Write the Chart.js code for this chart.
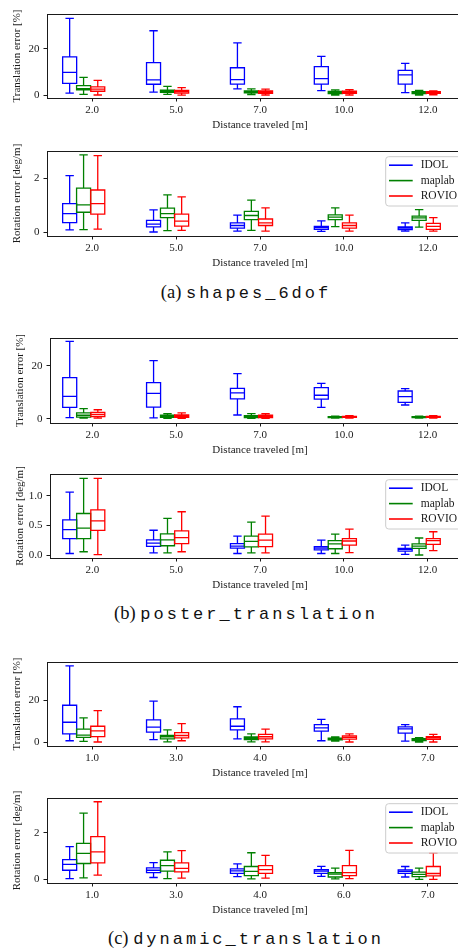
<!DOCTYPE html>
<html>
<head>
<meta charset="utf-8">
<script src="https://cdn.jsdelivr.net/npm/chart.js@4.4.0/dist/chart.umd.min.js"></script>
<style>
html, body { margin: 0; padding: 0; width: 458px; height: 951px; overflow: hidden; background: #fff; }
canvas { position: absolute; left: 0; }
.cap { position: absolute; left: 0; width: 492px; text-align: center; line-height: 22px; height: 22px;
       font-family: "Liberation Serif", serif; font-size: 18.5px; color: #111; white-space: nowrap; }
.cap .tt { font-family: "Liberation Mono", monospace; font-size: 17px; letter-spacing: 3px; }
</style>
</head>
<body>
<div class="cap" style="top:281px">(a) <span class="tt">shapes_6dof</span></div>
<div class="cap" style="top:602px">(b) <span class="tt">poster_translation</span></div>
<div class="cap" style="top:927px">(c) <span class="tt">dynamic_translation</span></div>
<script>
// ---- data ----
var categoriesAB = ['2.0', '5.0', '7.0', '10.0', '12.0'];
var categoriesC = ['1.0', '3.0', '4.0', '6.0', '7.0'];
var seriesNames = ['IDOL', 'maplab', 'ROVIO'];

// each box: [whisker low, q1, median, q3, whisker high]
var transA_IDOL   = [[0.9, 5.1, 9.8, 16.5, 33.0], [1.3, 4.7, 6.6, 14.0, 27.7], [2.7, 4.8, 6.7, 11.8, 22.5], [2.0, 4.8, 7.1, 12.3, 16.7], [1.1, 4.8, 8.7, 10.7, 13.7]];
var transA_maplab = [[0.4, 2.3, 2.8, 4.1, 7.7], [0.4, 1.2, 1.7, 2.2, 3.8], [0.3, 1.0, 1.4, 1.8, 2.7], [0.1, 0.7, 1.1, 1.6, 2.3], [0.1, 0.7, 1.1, 1.5, 2.1]];
var transA_ROVIO  = [[0.1, 1.7, 2.6, 3.6, 6.4], [0.0, 0.9, 1.5, 2.1, 3.3], [0.1, 0.8, 1.3, 1.9, 2.6], [0.1, 0.8, 1.2, 1.7, 2.4], [0.2, 0.8, 1.1, 1.5, 1.9]];

var rotA_IDOL   = [[0.09, 0.36, 0.69, 1.06, 2.09], [0.01, 0.20, 0.30, 0.44, 0.83], [0.04, 0.15, 0.25, 0.35, 0.63], [0.03, 0.11, 0.17, 0.22, 0.42], [0.04, 0.10, 0.15, 0.20, 0.35]];
var rotA_maplab = [[0.10, 0.74, 1.01, 1.63, 2.86], [0.06, 0.54, 0.69, 0.89, 1.38], [0.07, 0.47, 0.62, 0.77, 1.19], [0.21, 0.47, 0.56, 0.64, 0.90], [0.19, 0.44, 0.53, 0.60, 0.84]];
var rotA_ROVIO  = [[0.12, 0.67, 1.06, 1.56, 2.83], [0.07, 0.23, 0.41, 0.67, 1.31], [0.04, 0.25, 0.35, 0.49, 0.90], [0.04, 0.15, 0.25, 0.35, 0.63], [0.04, 0.11, 0.22, 0.33, 0.54]];

var transB_IDOL   = [[0.4, 4.3, 8.5, 15.6, 29.3], [0.3, 4.4, 9.6, 13.7, 22.0], [1.4, 7.5, 9.8, 11.5, 17.1], [4.3, 7.4, 8.9, 11.8, 13.4], [5.2, 6.2, 8.4, 10.5, 11.4]];
var transB_maplab = [[0.2, 0.6, 1.3, 2.2, 3.8], [0.1, 0.5, 0.9, 1.3, 1.9], [0.1, 0.4, 0.8, 1.2, 1.9], [0.2, 0.4, 0.6, 0.8, 1.0], [0.2, 0.4, 0.6, 0.8, 1.0]];
var transB_ROVIO  = [[0.2, 0.8, 1.6, 2.4, 3.4], [0.1, 0.5, 0.9, 1.4, 2.2], [0.1, 0.4, 0.9, 1.3, 1.9], [0.2, 0.5, 0.7, 0.9, 1.2], [0.2, 0.5, 0.7, 0.9, 1.2]];

var rotB_IDOL   = [[0.03, 0.28, 0.43, 0.595, 1.06], [0.04, 0.15, 0.205, 0.26, 0.42], [0.03, 0.12, 0.155, 0.195, 0.32], [0.03, 0.09, 0.12, 0.145, 0.255], [0.017, 0.07, 0.10, 0.117, 0.17]];
var rotB_maplab = [[0.06, 0.28, 0.455, 0.70, 1.29], [0.04, 0.16, 0.26, 0.36, 0.62], [0.04, 0.14, 0.233, 0.32, 0.555], [0.03, 0.11, 0.19, 0.245, 0.355], [0.005, 0.117, 0.155, 0.19, 0.29]];
var rotB_ROVIO  = [[0.01, 0.417, 0.578, 0.76, 1.29], [0.06, 0.195, 0.295, 0.41, 0.73], [0.04, 0.145, 0.255, 0.355, 0.655], [0.045, 0.17, 0.24, 0.28, 0.44], [0.078, 0.183, 0.245, 0.28, 0.395]];

var transC_IDOL   = [[0.8, 4.1, 9.6, 17.7, 36.5], [1.3, 4.9, 7.3, 10.7, 19.7], [1.7, 6.0, 7.7, 11.2, 17.0], [0.8, 5.4, 6.9, 8.5, 11.0], [0.6, 4.4, 6.5, 7.4, 8.5]];
var transC_maplab = [[0.5, 2.4, 3.5, 6.3, 11.7], [0.3, 1.7, 2.6, 3.3, 6.0], [0.3, 1.3, 2.0, 2.6, 4.1], [0.6, 1.2, 1.6, 2.0, 2.6], [0.2, 0.9, 1.4, 1.8, 2.3]];
var transC_ROVIO  = [[0.2, 2.8, 5.5, 7.7, 15.1], [0.8, 2.2, 3.3, 4.7, 9.0], [0.3, 1.7, 2.7, 3.8, 6.3], [0.2, 1.6, 2.4, 3.1, 4.1], [0.2, 1.5, 2.2, 2.8, 3.8]];

var rotC_IDOL   = [[0.04, 0.40, 0.65, 0.86, 1.41], [0.09, 0.30, 0.40, 0.50, 0.73], [0.13, 0.27, 0.37, 0.46, 0.67], [0.14, 0.27, 0.36, 0.43, 0.57], [0.11, 0.27, 0.35, 0.42, 0.56]];
var rotC_maplab = [[0.07, 0.69, 1.12, 1.55, 2.85], [0.04, 0.36, 0.60, 0.83, 1.19], [0.03, 0.17, 0.35, 0.56, 1.15], [0.03, 0.11, 0.23, 0.30, 0.49], [0.01, 0.13, 0.22, 0.32, 0.49]];
var rotC_ROVIO  = [[0.19, 0.72, 1.19, 1.84, 3.34], [0.06, 0.33, 0.48, 0.72, 1.24], [0.06, 0.27, 0.43, 0.60, 1.04], [0.04, 0.17, 0.30, 0.60, 1.25], [0.01, 0.16, 0.26, 0.56, 1.15]];

var yTicksTrans = [0, 20];
var yTickLabelsTrans = ['0', '20'];
var yTicksRot = [0, 2];
var yTickLabelsRot = ['0', '2'];
var yTicksRotB = [0, 0.5, 1.0];
var yTickLabelsRotB = ['0.0', '0.5', '1.0'];

// ---- style / layout ----
var COLORS = ['#0000ff', '#008000', '#ff0000'];
var BOX_OFFSETS = [-0.269, -0.103, 0.066];
var BOX_W = 0.167;
var CAP_FRAC = 0.6;
var CANVAS_W = 480;
var PAD_TOP = 14;
var X_AXIS_H = 34;
var FONT = '"Liberation Serif", serif';
var TEXT = '#1a1a1a';

var boxPlugin = {
    id: 'boxes',
    afterDatasetsDraw: function(chart) {
        var ctx = chart.ctx, a = chart.chartArea, x = chart.scales.x, y = chart.scales.y;
        ctx.save();
        ctx.beginPath();
        ctx.rect(a.left, a.top, a.right - a.left, a.bottom - a.top);
        ctx.clip();
        ctx.lineWidth = 1.3;
        chart.data.datasets.forEach(function(ds, s) {
            ctx.strokeStyle = ds.borderColor;
            ds.boxes.forEach(function(b, i) {
                var c = i + 1 + BOX_OFFSETS[s];
                var x0 = x.getPixelForValue(c - BOX_W / 2), x1 = x.getPixelForValue(c + BOX_W / 2);
                var xc = (x0 + x1) / 2, cw = (x1 - x0) * CAP_FRAC / 2;
                var lo = y.getPixelForValue(b[0]), q1 = y.getPixelForValue(b[1]), med = y.getPixelForValue(b[2]),
                    q3 = y.getPixelForValue(b[3]), hi = y.getPixelForValue(b[4]);
                ctx.beginPath();
                ctx.rect(x0, q3, x1 - x0, q1 - q3);
                ctx.moveTo(x0, med); ctx.lineTo(x1, med);
                ctx.moveTo(xc, q3); ctx.lineTo(xc, hi);
                ctx.moveTo(xc - cw, hi); ctx.lineTo(xc + cw, hi);
                ctx.moveTo(xc, q1); ctx.lineTo(xc, lo);
                ctx.moveTo(xc - cw, lo); ctx.lineTo(xc + cw, lo);
                ctx.stroke();
            });
        });
        ctx.restore();
    },
    afterDraw: function(chart) {
        var ctx = chart.ctx, a = chart.chartArea;
        ctx.save();
        // top and right spines
        ctx.strokeStyle = TEXT;
        ctx.lineWidth = 1;
        ctx.beginPath();
        ctx.moveTo(a.left, Math.round(a.top) + 0.5);
        ctx.lineTo(a.right, Math.round(a.top) + 0.5);
        ctx.lineTo(a.right, a.bottom);
        ctx.stroke();

        if (chart.options.plugins.boxes.legend) {
            var lx = 385.7, ly = a.top + 5.7;
            ctx.beginPath();
            ctx.roundRect(lx, ly, 110, 49.3, 3);
            ctx.fillStyle = 'rgba(255,255,255,0.8)';
            ctx.fill();
            ctx.strokeStyle = '#cccccc';
            ctx.stroke();
            ctx.font = '11.5px ' + FONT;
            ctx.textBaseline = 'middle';
            chart.data.datasets.forEach(function(ds, s) {
                var ry = ly + 8.5 + s * 15.4;
                ctx.strokeStyle = ds.borderColor;
                ctx.lineWidth = 1.6;
                ctx.beginPath();
                ctx.moveTo(389, ry); ctx.lineTo(412.7, ry);
                ctx.stroke();
                ctx.fillStyle = TEXT;
                ctx.fillText(ds.label, 420.7, ry);
            });
        }
        ctx.restore();
    }
};

function makePanel(p) {
    var cv = document.createElement('canvas');
    var h = PAD_TOP + p.plotH + X_AXIS_H;
    cv.width = CANVAS_W;
    cv.height = h;
    cv.style.top = (p.top - PAD_TOP) + 'px';
    cv.style.width = CANVAS_W + 'px';
    cv.style.height = h + 'px';
    document.body.appendChild(cv);

    var tickLen = 3.5;
    new Chart(cv, {
        type: 'scatter',
        data: {
            datasets: seriesNames.map(function(name, s) {
                return {
                    label: name,
                    boxes: p.boxes[s],
                    data: p.boxes[s].map(function(b, i) { return {x: i + 1 + BOX_OFFSETS[s], y: b[2]}; }),
                    pointRadius: 0,
                    borderColor: COLORS[s],
                    backgroundColor: COLORS[s]
                };
            })
        },
        options: {
            responsive: false,
            animation: false,
            devicePixelRatio: 1,
            events: [],
            layout: { padding: { top: PAD_TOP, right: CANVAS_W - p.right, left: 0, bottom: 0 } },
            plugins: {
                legend: { display: false },
                tooltip: { enabled: false },
                boxes: { legend: p.legend }
            },
            scales: {
                x: {
                    type: 'linear',
                    min: p.xMin,
                    max: p.xMax,
                    afterBuildTicks: function(s) { s.ticks = p.categories.map(function(c, i) { return {value: i + 1}; }); },
                    afterFit: function(s) { s.height = X_AXIS_H; },
                    ticks: {
                        autoSkip: false,
                        maxRotation: 0,
                        padding: 2.2,
                        color: TEXT,
                        font: { family: FONT, size: 11 },
                        callback: function(v, i) { return p.categories[i]; }
                    },
                    grid: { drawOnChartArea: false, drawTicks: true, tickLength: tickLen, color: TEXT },
                    border: { display: true, color: TEXT, width: 1 },
                    title: { display: true, text: 'Distance traveled [m]', color: TEXT, font: { family: FONT, size: 11 }, padding: { top: 0, bottom: 0.4 } }
                },
                y: {
                    type: 'linear',
                    min: p.yMin,
                    max: p.yMax,
                    afterBuildTicks: function(s) { s.ticks = p.yTicks.map(function(v) { return {value: v}; }); },
                    afterFit: function(s) { s.width = p.left; },
                    ticks: {
                        padding: 4,
                        color: TEXT,
                        font: { family: FONT, size: 11 },
                        callback: function(v, i) { return p.yTickLabels[i]; }
                    },
                    grid: { drawOnChartArea: false, drawTicks: true, tickLength: tickLen, color: TEXT },
                    border: { display: true, color: TEXT, width: 1 },
                    title: { display: true, text: p.yTitle, color: TEXT, font: { family: FONT, size: 11 }, padding: { top: p.yTitleX - 6.6, bottom: 0 } }
                }
            }
        },
        plugins: [boxPlugin]
    });
}

var panels = [
    { top: 14, plotH: 84, left: 47, right: 473, xMin: 0.461, xMax: 5.539, yMin: -1.2, yMax: 34.9,
      yTicks: yTicksTrans, yTickLabels: yTickLabelsTrans, yTitle: 'Translation error [%]', yTitleX: 17.5,
      categories: categoriesAB, boxes: [transA_IDOL, transA_maplab, transA_ROVIO], legend: false },
    { top: 151, plotH: 85, left: 47, right: 473, xMin: 0.461, xMax: 5.539, yMin: -0.137, yMax: 3.0,
      yTicks: yTicksRot, yTickLabels: yTickLabelsRot, yTitle: 'Rotation error [deg/m]', yTitleX: 17.5,
      categories: categoriesAB, boxes: [rotA_IDOL, rotA_maplab, rotA_ROVIO], legend: true },
    { top: 338, plotH: 85, left: 50, right: 470, xMin: 0.496, xMax: 5.504, yMin: -1.63, yMax: 30.6,
      yTicks: yTicksTrans, yTickLabels: yTickLabelsTrans, yTitle: 'Translation error [%]', yTitleX: 20,
      categories: categoriesAB, boxes: [transB_IDOL, transB_maplab, transB_ROVIO], legend: false },
    { top: 474, plotH: 84, left: 50, right: 470, xMin: 0.496, xMax: 5.504, yMin: -0.045, yMax: 1.362,
      yTicks: yTicksRotB, yTickLabels: yTickLabelsRotB, yTitle: 'Rotation error [deg/m]', yTitleX: 20,
      categories: categoriesAB, boxes: [rotB_IDOL, rotB_maplab, rotB_ROVIO], legend: true },
    { top: 662, plotH: 84, left: 47, right: 473, xMin: 0.461, xMax: 5.539, yMin: -1.7, yMax: 38.3,
      yTicks: yTicksTrans, yTickLabels: yTickLabelsTrans, yTitle: 'Translation error [%]', yTitleX: 17.5,
      categories: categoriesC, boxes: [transC_IDOL, transC_maplab, transC_ROVIO], legend: false },
    { top: 798, plotH: 85, left: 47, right: 473, xMin: 0.461, xMax: 5.539, yMin: -0.147, yMax: 3.5,
      yTicks: yTicksRot, yTickLabels: yTickLabelsRot, yTitle: 'Rotation error [deg/m]', yTitleX: 17.5,
      categories: categoriesC, boxes: [rotC_IDOL, rotC_maplab, rotC_ROVIO], legend: true }
];

panels.forEach(makePanel);
</script>
</body>
</html>
